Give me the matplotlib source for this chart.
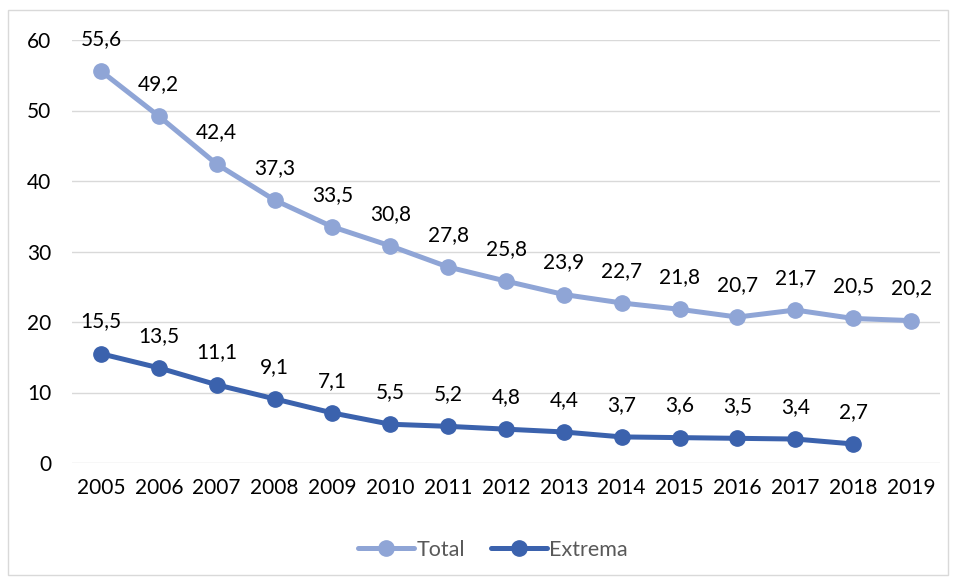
import matplotlib.pyplot as plt
from matplotlib.patches import Rectangle

years = [str(y) for y in range(2005, 2020)]
total = [55.6, 49.2, 42.4, 37.3, 33.5, 30.8, 27.8, 25.8, 23.9, 22.7, 21.8, 20.7, 21.7, 20.5, 20.2]
extrema = [15.5, 13.5, 11.1, 9.1, 7.1, 5.5, 5.2, 4.8, 4.4, 3.7, 3.6, 3.5, 3.4, 2.7]

C_TOTAL = "#8FA5D6"
C_EXTREMA = "#3B62AD"

plt.rcParams["font.family"] = ["Lato", "DejaVu Sans"]

fig = plt.figure(figsize=(9.57, 5.78), dpi=100)
ax = fig.add_axes([72 / 957, 1 - 463 / 578, 868 / 957, 423 / 578])

# chart frame
fig.patches.append(Rectangle((8 / 957, 3 / 578), 940 / 957, 565 / 578,
                             transform=fig.transFigure, fill=False,
                             edgecolor="#D9D9D9", linewidth=1))

x_total = list(range(len(total)))
x_ext = list(range(len(extrema)))
ax.plot(x_total, total, color=C_TOTAL, lw=3.6, marker="o", ms=11, label="Total",
        solid_capstyle="round", zorder=3)
ax.plot(x_ext, extrema, color=C_EXTREMA, lw=3.6, marker="o", ms=11, label="Extrema",
        solid_capstyle="round", zorder=3)

for xs, ys in ((x_total, total), (x_ext, extrema)):
    for xi, yi in zip(xs, ys):
        ax.annotate(f"{yi:.1f}".replace(".", ","), (xi, yi), xytext=(0, 16),
                    textcoords="offset points", ha="center", va="bottom",
                    fontsize=15, color="black")

ax.set_xlim(-0.5, len(years) - 0.5)
ax.set_ylim(0, 60)
ax.set_yticks(range(0, 61, 10))
ax.set_xticks(range(len(years)))
ax.set_xticklabels(years)
ax.tick_params(length=0, labelsize=15, colors="black")
ax.tick_params(axis="y", pad=15)
ax.tick_params(axis="x", pad=11)
ax.grid(axis="y", color="#D9D9D9", lw=1)
ax.set_axisbelow(True)
for s in ax.spines.values():
    s.set_visible(False)

leg = ax.legend(loc="center", bbox_to_anchor=(0.485, -0.205), ncol=2, frameon=False,
                fontsize=15.5, handlelength=2.6, columnspacing=1.2, handletextpad=0.1)
for t in leg.get_texts():
    t.set_color("#595959")

fig.savefig("out.png", dpi=100)
